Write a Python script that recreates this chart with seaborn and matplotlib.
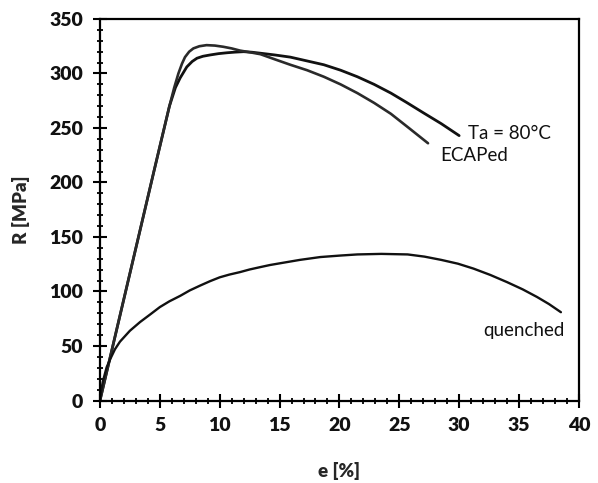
import matplotlib
matplotlib.use("Agg")
import matplotlib.pyplot as plt
from matplotlib.ticker import MultipleLocator
import pandas as pd
import seaborn as sns

# Engineering stress-strain curves (strain e in %, stress R in MPa)
e_ta80 = [0, 1.5, 3.0, 4.5, 5.8, 6.3, 6.7, 7.25, 7.7, 8.1, 8.6, 9.2, 9.9, 10.6, 11.3, 12.0,
          12.7, 13.4, 14.6, 15.9, 17.3, 18.7, 20.1, 21.5, 22.9, 24.3, 25.6, 27.0, 28.5, 30.0]
r_ta80 = [0, 70, 140, 210, 270, 287, 296, 306, 311, 314, 315.8, 317, 318.2, 319, 319.6, 320,
          319.5, 318.6, 317, 315, 311.5, 308, 303, 297, 290, 282, 273.5, 264, 254, 243]

e_ecap = [0, 1.5, 3.0, 4.5, 5.8, 6.2, 6.55, 6.85, 7.1, 7.45, 7.8, 8.3, 8.9, 9.6, 10.3, 11.0,
          11.7, 12.5, 13.4, 14.6, 15.9, 17.3, 18.7, 20.1, 21.5, 22.9, 24.3, 25.8, 27.4]
r_ecap = [0, 70, 140, 210, 270, 287, 300, 309, 315, 320, 323, 325, 326, 325.6, 324.5, 323,
          321, 319.5, 317.7, 313, 308, 303, 297, 290, 282, 273, 263, 250, 236]

e_quen = [0, 0.1, 0.25, 0.56, 0.9, 1.25, 1.67, 2.5, 3.35, 4.2, 5.0, 5.8, 6.7, 7.5, 8.4, 9.2,
          10.0, 10.8, 11.7, 12.5, 13.4, 14.2, 15.1, 16.7, 18.4, 20.1, 21.5, 23.5, 25.7, 27.1,
          28.5, 29.9, 31.2, 32.6, 34.0, 35.3, 36.5, 37.5, 38.5]
r_quen = [0, 9, 18, 30.6, 39, 47, 54, 64, 72, 79, 85.7, 91, 96, 101, 105.6, 109.5,
          113, 115.5, 117.8, 120.2, 122.4, 124.3, 126, 129, 131.6, 133, 134, 134.5, 134, 132,
          129, 125.5, 121, 115.2, 108.6, 102, 95, 88.5, 81]

curve_labels = ["Ta = 80°C", "ECAPed", "quenched"]
x_ticks = [0, 5, 10, 15, 20, 25, 30, 35, 40]
y_ticks = [0, 50, 100, 150, 200, 250, 300, 350]

sns.set_theme(style="white")
plt.rcParams["font.family"] = ["Lato", "DejaVu Sans"]

fig = plt.figure(figsize=(5.98, 4.83), dpi=100)
ax = fig.add_axes([0.1672, 0.1708, 0.8008, 0.7899])

curves = [(e_ta80, r_ta80, "#111111", 2.0),
          (e_ecap, r_ecap, "#2a2a2a", 1.9),
          (e_quen, r_quen, "#111111", 1.7)]
for (xs, ys, col, lw), name in zip(curves, curve_labels):
    df = pd.DataFrame({"e": xs, "R": ys})
    sns.lineplot(data=df, x="e", y="R", sort=False, estimator=None,
                 color=col, linewidth=lw, ax=ax)
for ln in ax.lines:
    ln.set_solid_joinstyle("round")
    ln.set_solid_capstyle("round")

ax.set_xlim(0, 40)
ax.set_ylim(0, 350)
ax.xaxis.set_minor_locator(MultipleLocator(1))
ax.yaxis.set_minor_locator(MultipleLocator(10))
ax.set_xticks(x_ticks)
ax.set_yticks(y_ticks)
ax.set_xticklabels([str(t) for t in x_ticks], fontsize=14, fontweight="heavy")
ax.set_yticklabels([str(t) for t in y_ticks], fontsize=14, fontweight="heavy")

ax.tick_params(axis="both", which="major", direction="inout", length=10, width=1.5,
               color="black", labelcolor="#111111", pad=7,
               bottom=True, left=True, top=False, right=False)
ax.tick_params(axis="both", which="minor", direction="inout", length=5, width=1.3,
               color="black", bottom=True, left=True, top=False, right=False)

for sp in ax.spines.values():
    sp.set_visible(True)
    sp.set_color("black")
    sp.set_linewidth(1.6)

ax.set_xlabel("e [%]", fontsize=13.5, fontweight="heavy", labelpad=20)
ax.set_ylabel("R [MPa]", fontsize=13.5, fontweight="heavy", labelpad=14)

ax.text(30.7, 245, curve_labels[0], fontsize=13.5, ha="left", va="center", color="#111111")
ax.text(28.4, 225, curve_labels[1], fontsize=13.5, ha="left", va="center", color="#111111")
ax.text(32.0, 64, curve_labels[2], fontsize=13.5, ha="left", va="center", color="#111111")

fig.savefig("out.png", dpi=100)
